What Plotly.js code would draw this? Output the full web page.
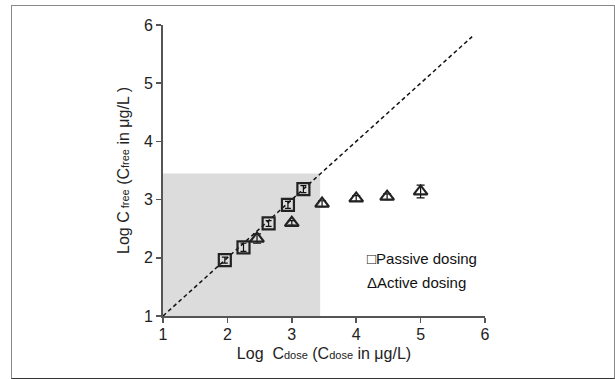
<!DOCTYPE html>
<html><head><meta charset="utf-8">
<script src="https://cdn.plot.ly/plotly-3.0.1.min.js"></script>
<style>html,body{margin:0;padding:0;background:#fff;}#wrap{position:relative;width:615px;height:379px;}
#frame{position:absolute;left:11px;top:5px;width:602px;height:372px;border:1.5px solid #888;border-bottom-color:#333;pointer-events:none;}</style>
</head><body><div id="wrap"><div id="chart" style="width:615px;height:379px;"></div><div id="frame"></div></div>
<script>
const passiveX = [1.96, 2.25, 2.64, 2.94, 3.18];
const passiveY = [1.96, 2.18, 2.59, 2.91, 3.18];
const passiveErr = [0.05, 0.07, 0.05, 0.06, 0.06];
const activeX = [2.46, 3.0, 3.47, 4.0, 4.48, 5.0];
const activeY = [2.33, 2.60, 2.93, 3.02, 3.05, 3.14];
const activeErr = [0.08, 0.04, 0.05, 0.05, 0.05, 0.11];
const shadeX = [1, 3.44, 3.44, 1, 1];
const shadeY = [1, 1, 3.45, 3.45, 1];
const lineX = [1, 5.8];
const lineY = [1, 5.8];
const tickVals = [1, 2, 3, 4, 5, 6];

const traces = [
  {x: shadeX, y: shadeY, mode: 'lines', fill: 'toself', fillcolor: '#dcdcdd', line: {width: 0}, hoverinfo: 'skip', showlegend: false},
  {x: lineX, y: lineY, mode: 'lines', line: {color: '#111', width: 1.5, dash: '4px,3px'}, showlegend: false},
  {x: passiveX, y: passiveY, mode: 'markers', error_y: {type: 'data', array: passiveErr, color: '#111', thickness: 1.2, width: 3},
   marker: {symbol: 'square-open', size: 12, color: '#222', line: {width: 2.2}}, showlegend: false},
  {x: activeX, y: activeY, mode: 'markers', error_y: {type: 'data', array: activeErr, color: '#111', thickness: 1.2, width: 4},
   marker: {symbol: 'triangle-up-open', size: 12, color: '#222', line: {width: 2.2}}, showlegend: false}
];
const fam = 'Liberation Sans, Arial, sans-serif';
const tickFont = {family: fam, size: 16, color: '#222'};
const titleFont = {family: fam, size: 16, color: '#222'};
const sub = s => '<span style="font-size:11px">' + s + '</span>';
const layout = {
  width: 615, height: 379,
  margin: {l: 163, r: 130, t: 25, b: 63},
  paper_bgcolor: '#fff', plot_bgcolor: '#fff',
  font: tickFont,
  xaxis: {range: [1, 6], tickvals: tickVals, showgrid: false, zeroline: false, showline: true, linecolor: '#555', linewidth: 2,
    ticks: 'outside', ticklen: 5, tickcolor: '#555', tickwidth: 1.5, tickfont: tickFont, ticklabelstandoff: -2,
    title: {text: 'Log  C' + sub('dose') + ' (C' + sub('dose') + ' in μg/L)', font: titleFont, standoff: 6}},
  yaxis: {range: [1, 6], tickvals: tickVals, showgrid: false, zeroline: false, showline: true, linecolor: '#555', linewidth: 2,
    ticks: 'outside', ticklen: 5, tickcolor: '#555', tickwidth: 1.5, tickfont: tickFont,
    title: {text: 'Log C' + sub(' free') + ' (C' + sub('free') + ' in μg/L )', font: titleFont, standoff: 10}},
  annotations: [
    {xref: 'paper', yref: 'paper', x: 0.627, y: 0.198, xanchor: 'left', yanchor: 'middle', showarrow: false, text: '□Passive dosing', font: {family: fam, size: 15, color: '#111'}},
    {xref: 'paper', yref: 'paper', x: 0.627, y: 0.115, xanchor: 'left', yanchor: 'middle', showarrow: false, text: 'ΔActive dosing', font: {family: fam, size: 15, color: '#111'}}
  ]
};
Plotly.newPlot('chart', traces, layout, {displayModeBar: false, staticPlot: true});
</script></body></html>
